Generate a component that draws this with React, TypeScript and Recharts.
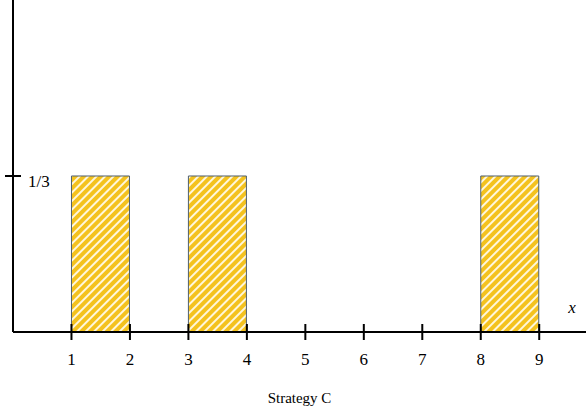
import React from "react";
import { ComposedChart, Bar, XAxis, YAxis, Label } from "recharts";

// Bins of width 1, identified by their centres; probability mass per bin
const binCenters = [1.5, 2.5, 3.5, 4.5, 5.5, 6.5, 7.5, 8.5];
const probabilities = [1 / 3, 0, 1 / 3, 0, 0, 0, 0, 1 / 3];
const xTicks = [1, 2, 3, 4, 5, 6, 7, 8, 9];
const yTicks = [1 / 3];
const yTickLabels = ["1/3"];
const xTitle = "Strategy C";
const xVarLabel = "x";

const data = binCenters.map((x, i) => ({ x, p: probabilities[i] }));

const FONT = "'Liberation Serif', 'DejaVu Serif', serif";

const XTick = (props: any) => {
  const { x, y, payload } = props;
  return (
    <g>
      <line x1={x} x2={x} y1={y - 8} y2={y + 8} stroke="#000" strokeWidth={2} />
      <text x={x} y={y + 33} textAnchor="middle" style={{ fontFamily: FONT, fontSize: 17, fill: "#000" }}>
        {payload.value}
      </text>
    </g>
  );
};

const YTick = (props: any) => {
  const { x, y, payload } = props;
  const idx = yTicks.findIndex((t) => Math.abs(t - payload.value) < 1e-9);
  return (
    <g>
      <line x1={x - 8} x2={x + 8} y1={y} y2={y} stroke="#000" strokeWidth={2} />
      <text x={x + 15} y={y + 11} textAnchor="start" style={{ fontFamily: FONT, fontSize: 17, fill: "#000" }}>
        {idx >= 0 ? yTickLabels[idx] : ""}
      </text>
    </g>
  );
};

export default function App() {
  return (
    <div style={{ position: "absolute", left: 0, top: 0, background: "#fff", fontFamily: FONT }}>
      <ComposedChart
        width={586}
        height={414}
        data={data}
        margin={{ top: 0, right: 0, left: 12, bottom: 81 }}
        barCategoryGap={0}
        barGap={0}
        style={{ fontFamily: FONT }}
      >
        <defs>
          <pattern
            id="hatch"
            patternUnits="userSpaceOnUse"
            width={6}
            height={6}
            patternTransform="rotate(45)"
          >
            <rect x={0} y={0} width={6} height={6} fill="#F4C21E" />
            <rect x={0} y={0} width={2} height={6} fill="#FFF7DC" />
          </pattern>
        </defs>
        <XAxis
          dataKey="x"
          type="number"
          domain={[0, 9.8]}
          allowDataOverflow
          ticks={xTicks}
          interval={0}
          height={1}
          tickSize={0}
          tickMargin={0}
          tickLine={false}
          axisLine={{ stroke: "#000", strokeWidth: 2 }}
          tick={<XTick />}
        >
          <Label
            value={xTitle}
            position="bottom"
            offset={59}
            style={{ fontFamily: FONT, fontSize: 15, fill: "#000" }}
          />
          <Label
            content={(p: any) => {
              const vb = p.viewBox || {};
              return (
                <text
                  x={vb.x + vb.width - 14}
                  y={vb.y - 19}
                  textAnchor="middle"
                  style={{ fontFamily: FONT, fontSize: 17, fontStyle: "italic", fill: "#000" }}
                >
                  {xVarLabel}
                </text>
              );
            }}
          />
        </XAxis>
        <YAxis
          type="number"
          domain={[0, 0.7094]}
          allowDataOverflow
          ticks={yTicks}
          width={1}
          tickSize={0}
          tickMargin={0}
          tickLine={false}
          axisLine={{ stroke: "#000", strokeWidth: 2 }}
          tick={<YTick />}
        />
        <Bar
          dataKey="p"
          fill="url(#hatch)"
          stroke="#4E5F70"
          strokeWidth={1}
          isAnimationActive={false}
        />
      </ComposedChart>
    </div>
  );
}
